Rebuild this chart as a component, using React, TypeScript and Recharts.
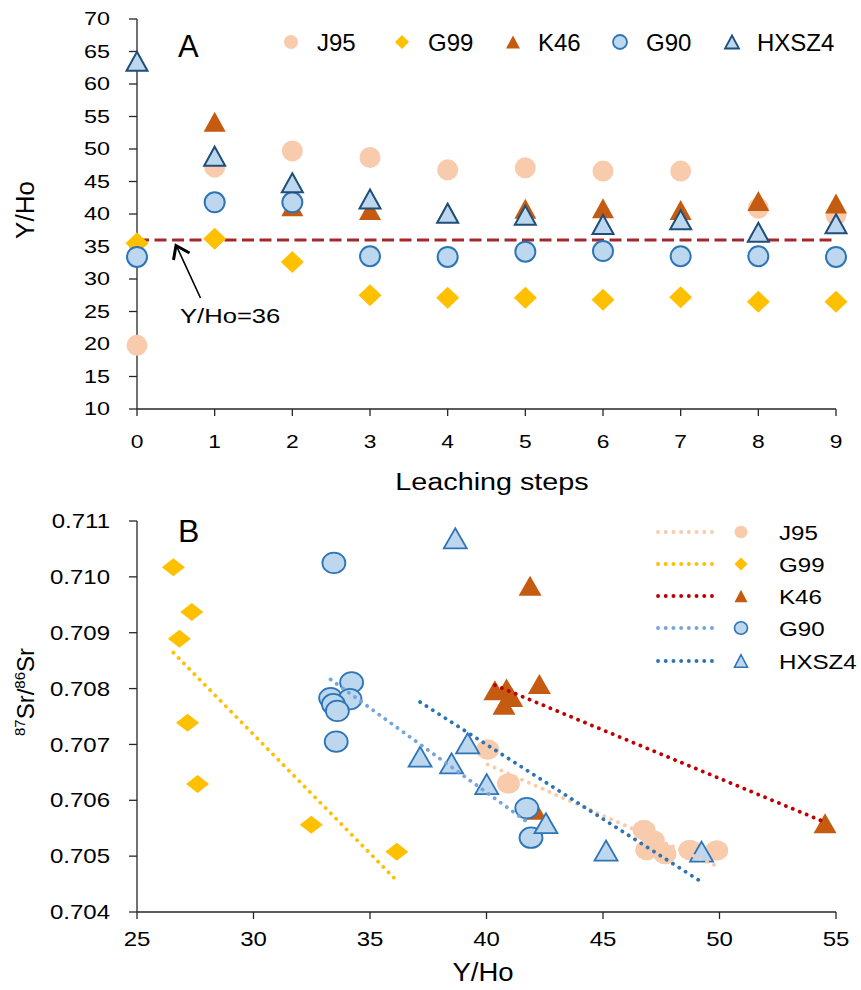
import React from "react";
import { ScatterChart, Scatter, XAxis, YAxis, ReferenceLine } from "recharts";

const FONT = '"Liberation Sans", Arial, sans-serif';
const AX = "#262626";

// ---- panel A: Y/Ho by leaching step ----
const STEPS = [0, 1, 2, 3, 4, 5, 6, 7, 8, 9];
const A_Y_TICKS = [10, 15, 20, 25, 30, 35, 40, 45, 50, 55, 60, 65, 70];
const J95_STEP = [19.8, 47.2, 49.7, 48.7, 46.8, 47.1, 46.6, 46.6, 40.9, 39.8];
const G99_STEP = [35.5, 36.2, 32.6, 27.5, 27.1, 27.1, 26.8, 27.2, 26.5, 26.5];
const K46_STEP = [null, 54.2, 41.2, 40.6, 40.3, 40.8, 40.9, 40.6, 42.0, 41.6];
const G90_STEP = [33.4, 41.8, 41.8, 33.5, 33.4, 34.2, 34.3, 33.5, 33.5, 33.4];
const HXSZ4_STEP = [63.5, 48.9, 44.8, 42.3, 40.1, 39.8, 38.4, 39.1, 37.2, 38.5];
const YHO_LIMIT = 36;

// ---- panel B: 87Sr/86Sr vs Y/Ho ----
const B_X_TICKS = [25, 30, 35, 40, 45, 50, 55];
const B_Y_TICKS = [0.704, 0.705, 0.706, 0.707, 0.708, 0.709, 0.71, 0.711];
const J95_YHO = [40.05, 40.94, 46.76, 47.16, 46.88, 47.66, 48.73, 49.88];
const J95_SR = [0.70691, 0.7063, 0.70547, 0.70528, 0.70511, 0.70504, 0.70511, 0.7051];
const G99_YHO = [26.56, 26.82, 27.35, 27.17, 27.6, 32.48, 36.15];
const G99_SR = [0.71017, 0.70889, 0.70937, 0.70739, 0.70629, 0.70556, 0.70508];
const K46_YHO = [54.53, 41.87, 40.36, 40.86, 42.27, 40.75, 41.08, 42.08];
const K46_SR = [0.70559, 0.70984, 0.70797, 0.708, 0.70808, 0.70771, 0.70785, 0.70583];
const G90_YHO = [33.45, 34.21, 33.31, 34.14, 33.43, 33.6, 33.55, 41.73, 41.91];
const G90_SR = [0.71025, 0.70811, 0.70783, 0.70781, 0.70772, 0.7076, 0.70705, 0.70586, 0.70533];
const HXSZ4_YHO = [38.66, 37.15, 38.5, 39.19, 40.01, 42.55, 45.13, 49.23];
const HXSZ4_SR = [0.71069, 0.70678, 0.70666, 0.70702, 0.70629, 0.70559, 0.7051, 0.70508];

type Kind = "circle" | "diamond" | "triangle";
type Style = { kind: Kind; w: number; h: number; fill: string; stroke?: string; sw?: number };

function marker(s: Style, cx: number, cy: number, key?: string) {
  const common = { fill: s.fill, stroke: s.stroke || "none", strokeWidth: s.sw || 0 };
  if (s.kind === "circle") return <ellipse key={key} cx={cx} cy={cy} rx={s.w / 2} ry={s.h / 2} {...common} />;
  if (s.kind === "diamond")
    return (
      <path key={key} d={`M${cx},${cy - s.h / 2}L${cx + s.w / 2},${cy}L${cx},${cy + s.h / 2}L${cx - s.w / 2},${cy}Z`} {...common} />
    );
  return (
    <path key={key} d={`M${cx},${cy - s.h / 2}L${cx + s.w / 2},${cy + s.h / 2}L${cx - s.w / 2},${cy + s.h / 2}Z`} {...common} />
  );
}

const stepPts = (vals: (number | null)[]) =>
  STEPS.map((s, i) => ({ x: s, y: vals[i] })).filter((p) => p.y != null);
const zip = (xs: number[], ys: number[]) => xs.map((x, i) => ({ x, y: ys[i] }));

// least squares trendline over the data range (like the spreadsheet trendline)
function trend(xs: number[], ys: number[]) {
  const n = xs.length;
  const mx = xs.reduce((a, b) => a + b, 0) / n;
  const my = ys.reduce((a, b) => a + b, 0) / n;
  let sxy = 0, sxx = 0;
  xs.forEach((x, i) => {
    sxy += (x - mx) * (ys[i] - my);
    sxx += (x - mx) * (x - mx);
  });
  const b = sxy / sxx;
  const lo = Math.min(...xs), hi = Math.max(...xs);
  return [{ x: lo, y: my + b * (lo - mx) }, { x: hi, y: my + b * (hi - mx) }];
}

const seriesA = [
  { name: "J95", data: stepPts(J95_STEP), st: { kind: "circle", w: 21, h: 21, fill: "#F8CBAD" } as Style },
  { name: "G99", data: stepPts(G99_STEP), st: { kind: "diamond", w: 23, h: 22, fill: "#FFC000" } as Style },
  { name: "K46", data: stepPts(K46_STEP), st: { kind: "triangle", w: 22, h: 20, fill: "#C55A11" } as Style },
  { name: "G90", data: stepPts(G90_STEP), st: { kind: "circle", w: 20, h: 20, fill: "#BDD7EE", stroke: "#2E75B6", sw: 2 } as Style },
  { name: "HXSZ4", data: stepPts(HXSZ4_STEP), st: { kind: "triangle", w: 21, h: 19, fill: "#BDD7EE", stroke: "#1F4E79", sw: 2 } as Style },
];

const seriesB = [
  { name: "J95", xs: J95_YHO, ys: J95_SR, line: "#F8CBAD", st: { kind: "circle", w: 23, h: 20.5, fill: "#F8CBAD" } as Style },
  { name: "G99", xs: G99_YHO, ys: G99_SR, line: "#FFC000", st: { kind: "diamond", w: 23, h: 18, fill: "#FFC000" } as Style },
  { name: "K46", xs: K46_YHO, ys: K46_SR, line: "#C00000", st: { kind: "triangle", w: 23, h: 20, fill: "#C55A11" } as Style },
  { name: "G90", xs: G90_YHO, ys: G90_SR, line: "#76A5DC", st: { kind: "circle", w: 23, h: 20.5, fill: "#BDD7EE", stroke: "#2E75B6", sw: 1.8 } as Style },
  { name: "HXSZ4", xs: HXSZ4_YHO, ys: HXSZ4_SR, line: "#2E75B6", st: { kind: "triangle", w: 23, h: 20, fill: "#BDD7EE", stroke: "#2E75B6", sw: 1.8 } as Style },
];

const DOT = { strokeWidth: 3.8, strokeDasharray: "0.1 7.4", strokeLinecap: "round" as const };

function tick(size: number, sx: number, anchor: string, dy: string, fmt?: (v: number) => string) {
  return (p: any) => (
    <text
      transform={`translate(${p.x},${p.y}) scale(${sx},1)`}
      textAnchor={anchor}
      dy={dy}
      fontSize={size}
      fontFamily={FONT}
      fill="#000"
    >
      {fmt ? fmt(p.payload.value) : p.payload.value}
    </text>
  );
}

const axisStyle = { stroke: AX, strokeWidth: 1.3 };

function ChartA() {
  return (
    <ScatterChart width={861} height={480} margin={{ top: 19, right: 25, bottom: 31, left: 77 }}>
      <XAxis type="number" dataKey="x" domain={[0, 9]} ticks={STEPS} interval={0} height={40}
        tickSize={7} tickMargin={19} axisLine={axisStyle} tickLine={axisStyle} tick={tick(19, 1.2, "middle", "0.71em")} />
      <YAxis type="number" dataKey="y" domain={[10, 70]} ticks={A_Y_TICKS} interval={0} width={60}
        tickSize={8} tickMargin={19} axisLine={axisStyle} tickLine={axisStyle} tick={tick(18, 1.3, "end", "0.355em")} />
      <ReferenceLine y={YHO_LIMIT} stroke="#A3282B" strokeWidth={3} strokeDasharray="12 5.5" />
      {seriesA.map((s) => (
        <Scatter key={s.name} name={s.name} data={s.data} isAnimationActive={false}
          shape={(p: any) => marker(s.st, p.cx, p.cy)} />
      ))}
    </ScatterChart>
  );
}

function ChartB() {
  return (
    <ScatterChart width={861} height={500} margin={{ top: 31, right: 25, bottom: 38, left: 77 }}>
      <XAxis type="number" dataKey="x" domain={[25, 55]} ticks={B_X_TICKS} interval={0} height={40}
        tickSize={7} tickMargin={13} axisLine={axisStyle} tickLine={axisStyle} tick={tick(20, 1.2, "middle", "0.71em")} />
      <YAxis type="number" dataKey="y" domain={[0.704, 0.711]} ticks={B_Y_TICKS} interval={0} width={60}
        tickSize={8} tickMargin={19} axisLine={axisStyle} tickLine={axisStyle}
        tick={tick(20, 1.2, "end", "0.355em", (v) => v.toFixed(3))} />
      {seriesB.map((s) => (
        <Scatter key={s.name} name={s.name} data={zip(s.xs, s.ys)} isAnimationActive={false}
          shape={(p: any) => marker(s.st, p.cx, p.cy)} />
      ))}
      {seriesB.map((s) => (
        <Scatter key={s.name + "-trend"} name={s.name + " trend"} data={trend(s.xs, s.ys)} isAnimationActive={false}
          line={{ stroke: s.line, ...DOT }} shape={() => <g />} legendType="none" />
      ))}
    </ScatterChart>
  );
}

const LEG_A_X = [291, 402, 513, 620, 732];
const LEG_A_TX = [317, 428, 538, 646, 757];
const LEG_B_Y = [532, 564, 596, 628, 661];

function Overlay() {
  return (
    <svg width={861} height={990} style={{ position: "absolute", left: 0, top: 0, pointerEvents: "none" }} fontFamily={FONT}>
      <text x={178} y={57} fontSize={31}>A</text>
      <text x={178} y={542} fontSize={32}>B</text>

      {seriesA.map((s, i) => (
        <g key={s.name}>
          {marker({ ...s.st, w: 14, h: s.st.kind === "triangle" ? 13 : 14, sw: s.st.sw ? 1.8 : 0 }, LEG_A_X[i], 42)}
          <text x={LEG_A_TX[i]} y={51} fontSize={24}>{s.name}</text>
        </g>
      ))}

      {seriesB.map((s, i) => (
        <g key={s.name}>
          <line x1={658} x2={719} y1={LEG_B_Y[i]} y2={LEG_B_Y[i]} stroke={s.line} {...DOT} strokeDasharray="0.1 7.6" />
          {marker({ ...s.st, w: 13, h: s.st.kind === "diamond" ? 13 : 12.5, sw: s.st.sw ? 1.6 : 0 }, 741, LEG_B_Y[i])}
          <text transform={`translate(779,${LEG_B_Y[i] + 7.5}) scale(1.15,1)`} fontSize={21}>{s.name}</text>
        </g>
      ))}

      <text transform="translate(492,490) scale(1.25,1)" textAnchor="middle" fontSize={23}>Leaching steps</text>
      <text transform="translate(34,210) rotate(-90)" textAnchor="middle" fontSize={26}>Y/Ho</text>

      <text transform="translate(483,981) scale(1.1,1)" textAnchor="middle" fontSize={25}>Y/Ho</text>
      <text transform="translate(34,692) rotate(-90)" textAnchor="middle" fontSize={24}>
        <tspan fontSize={15} dy={-9}>87</tspan>
        <tspan fontSize={24} dy={9}>Sr/</tspan>
        <tspan fontSize={15} dy={-9}>86</tspan>
        <tspan fontSize={24} dy={9}>Sr</tspan>
      </text>

      <line x1={200.5} y1={298} x2={176.5} y2={246} stroke="#000" strokeWidth={1.6} />
      <polyline points="173.5,260 176,245.5 189.5,253" fill="none" stroke="#000" strokeWidth={3} />
      <text transform="translate(180,323) scale(1.22,1)" fontSize={21}>Y/Ho=36</text>
    </svg>
  );
}

export default function App() {
  return (
    <div style={{ position: "absolute", left: 0, top: 0, width: 861, height: 990, background: "#fff", fontFamily: FONT }}>
      <div style={{ position: "absolute", left: 0, top: 0 }}>
        <ChartA />
      </div>
      <div style={{ position: "absolute", left: 0, top: 490 }}>
        <ChartB />
      </div>
      <Overlay />
    </div>
  );
}
